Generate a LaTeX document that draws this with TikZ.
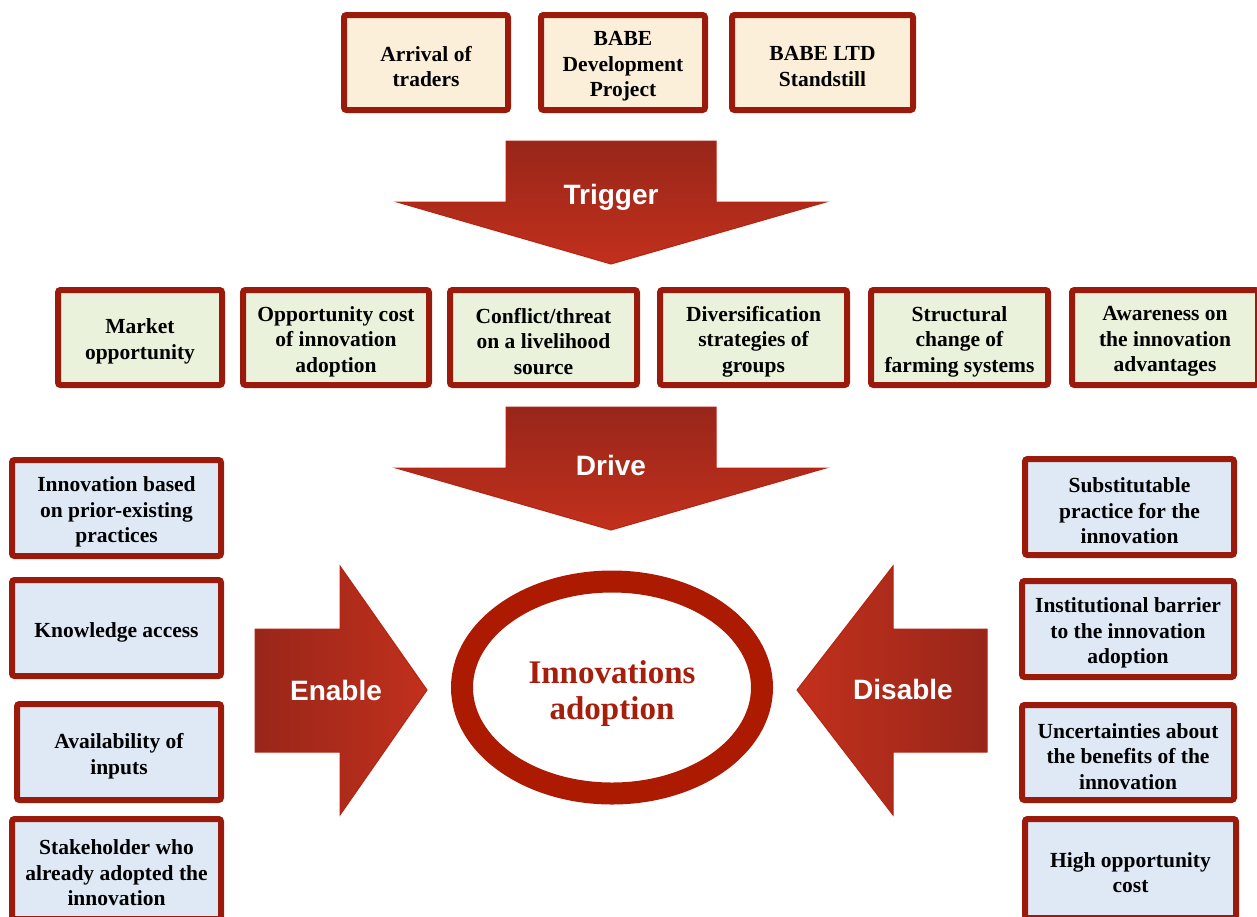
\documentclass[tikz,border=0pt]{standalone}
\usepackage{fontspec}
\setmainfont{Liberation Serif}
\newfontfamily\arrowfont{Liberation Sans}
\definecolor{boxedge}{HTML}{9A1A0B}
\definecolor{creamfill}{HTML}{FCEFD9}
\definecolor{greenfill}{HTML}{EAF2DC}
\definecolor{bluefill}{HTML}{DFE8F5}
\definecolor{arrowdark}{HTML}{98261A}
\definecolor{arrowlight}{HTML}{C2301C}
\definecolor{arrowedge}{HTML}{B8220F}
\definecolor{ringred}{HTML}{AD1A02}
\definecolor{ringtext}{HTML}{A61E0C}
\tikzset{
  factor/.style={draw=boxedge, line width=6pt, rounded corners=2.5pt, inner sep=0pt},
  factortext/.style={inner sep=0pt, align=center, text=black,
    font=\bfseries\fontsize{21.5}{25.5}\selectfont},
  eventbox/.style={factor, fill=creamfill},
  driverbox/.style={factor, fill=greenfill},
  sidebox/.style={factor, fill=bluefill},
  arrowlabel/.style={text=white, font=\arrowfont\bfseries\fontsize{28}{32}\selectfont},
  bigarrow/.style={draw=arrowedge, line width=1pt, line join=miter}
}
% \factor{style}{name}{centre x}{centre y}{width}{height}{text}
\newcommand\factor[7]{%
  \node[#1, minimum width=#5pt, minimum height=#6pt] (#2) at (#3,#4) {};
  \node[factortext] (#2-text) at ([yshift=-4pt]#2.center) {#7};
}
\begin{document}
\begin{tikzpicture}[x=1pt, y=-1pt]
\useasboundingbox (0,0) rectangle (1257,916);

% events that trigger
\factor{eventbox}{arrival}{426}{62.5}{164}{95}{Arrival of\\traders}
\factor{eventbox}{babedev}{623}{62.5}{164}{95}{BABE\\Development\\Project}
\factor{eventbox}{babeltd}{822.5}{62.5}{181}{95}{BABE LTD\\Standstill}

% trigger arrow
\shade[bigarrow, top color=arrowdark, bottom color=arrowlight]
  (506,141) -- (716,141) -- (716,202) -- (826,202) -- (611,264) -- (397,202) -- (506,202) -- cycle;
\node[arrowlabel] (trigger) at (611,197) {Trigger};

% drivers
\factor{driverbox}{market}{140}{337.5}{164}{95}{Market\\opportunity}
\factor{driverbox}{oppcost}{336}{337.5}{186}{95}{Opportunity cost\\of innovation\\adoption}
\factor{driverbox}{conflict}{543.5}{337.5}{187}{95}{Conflict/threat\\on a livelihood\\source}
\factor{driverbox}{divers}{753.5}{337.5}{187}{95}{Diversification\\strategies of\\groups}
\factor{driverbox}{struct}{959.5}{337.5}{177}{95}{Structural\\change of\\farming systems}
\factor{driverbox}{aware}{1165}{337.5}{186}{95}{Awareness on\\the innovation\\advantages}

% drive arrow
\shade[bigarrow, top color=arrowdark, bottom color=arrowlight]
  (506,407) -- (716,407) -- (716,468) -- (826,468) -- (611,530) -- (396,468) -- (506,468) -- cycle;
\node[arrowlabel] (drive) at (611,465) {Drive};

% enabling factors
\factor{sidebox}{prior}{116.5}{508}{209}{96}{Innovation based\\on prior-existing\\practices}
\factor{sidebox}{knowledge}{116.5}{628}{209}{96}{Knowledge access}
\factor{sidebox}{inputs}{119}{752}{204}{96}{Availability of\\inputs}
\factor{sidebox}{stake}{116.5}{869}{209}{100}{Stakeholder who\\already adopted the\\innovation}

% disabling factors
\factor{sidebox}{subst}{1129.5}{507}{209}{96}{Substitutable\\practice for the\\innovation}
\factor{sidebox}{instit}{1128}{629}{212}{96}{Institutional barrier\\to the innovation\\adoption}
\factor{sidebox}{uncert}{1128}{752.5}{212}{95}{Uncertainties about\\the benefits of the\\innovation}
\factor{sidebox}{highopp}{1130.5}{868.5}{211}{99}{High opportunity\\cost}

% enable arrow
\shade[bigarrow, left color=arrowdark, right color=arrowlight]
  (255,629) -- (340,629) -- (340,566) -- (427,690) -- (340,815) -- (340,752) -- (255,752) -- cycle;
\node[arrowlabel] (enable) at (336,690) {Enable};

% disable arrow
\shade[bigarrow, left color=arrowlight, right color=arrowdark]
  (987,629) -- (893,629) -- (893,566) -- (797,690) -- (893,815) -- (893,752) -- (987,752) -- cycle;
\node[arrowlabel] (disable) at (903,689) {Disable};

% central outcome
\draw[ringred, line width=22pt] (612,687.5) ellipse [x radius=150, y radius=106];
\node[text=ringtext, align=center, font=\bfseries\fontsize{33}{36}\selectfont] (adoption) at (612,694) {Innovations\\adoption};
\end{tikzpicture}
\end{document}
